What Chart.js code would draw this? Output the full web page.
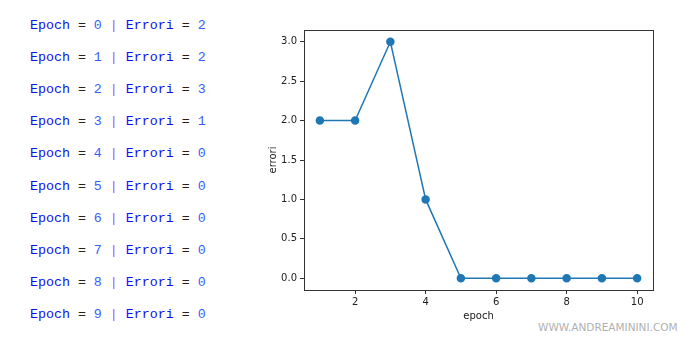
<!DOCTYPE html>
<html><head><meta charset="utf-8">
<script src="https://cdn.jsdelivr.net/npm/chart.js@4"></script>
<style>
html,body{margin:0;padding:0;background:#fff;width:700px;height:340px;overflow:hidden;}
#log{position:absolute;left:30px;top:0;font-family:"Liberation Mono","Courier New",monospace;font-size:13.3px;}
#log div{position:absolute;left:0;white-space:pre;line-height:16px;}
.k{color:#1010ee}.op{color:#222}.n{color:#3a5cff}.p{color:#a050ff}
#wm{position:absolute;left:538px;top:321px;font-family:"DejaVu Sans",sans-serif;font-size:10.5px;color:#b0b0b0;}
#c{position:absolute;left:0;top:0;}
</style></head><body>
<div id="log"></div>
<div id="wm">WWW.ANDREAMININI.COM</div>
<canvas id="c" width="700" height="340"></canvas>
<script>
const logEpochs = [0,1,2,3,4,5,6,7,8,9];
const epochs = [1,2,3,4,5,6,7,8,9,10];
const errori = [2,2,3,1,0,0,0,0,0,0];
const xTicks = [2,4,6,8,10];
const yTicks = [0,0.5,1,1.5,2,2.5,3];

const log = document.getElementById('log');
logEpochs.forEach((e,i)=>{
  const d=document.createElement('div');
  d.style.top=(18+i*32.1)+'px';
  d.innerHTML='<span class="k">Epoch</span> <span class="op">=</span> <span class="n">'+e+'</span> <span class="p">|</span> <span class="k">Errori</span> <span class="op">=</span> <span class="n">'+errori[i]+'</span>';
  log.appendChild(d);
});

const frame={id:'frame',afterDraw(ch){const a=ch.chartArea,c=ch.ctx;c.save();c.strokeStyle='#333';c.lineWidth=1;c.strokeRect(Math.round(a.left)+0.5,Math.round(a.top)+0.5,Math.round(a.right-a.left),Math.round(a.bottom-a.top));c.restore();}};

new Chart(document.getElementById('c'),{
  type:'line',
  data:{datasets:[{data:epochs.map((x,i)=>({x:x,y:errori[i]})),borderColor:'#1f77b4',backgroundColor:'#1f77b4',borderWidth:1.5,pointRadius:3.5,pointHoverRadius:3.5,tension:0}]},
  options:{
    responsive:false,animation:false,devicePixelRatio:1,
    layout:{padding:{left:267,right:47,top:30,bottom:18}},
    plugins:{legend:{display:false},tooltip:{enabled:false}},
    scales:{
      x:{type:'linear',min:0.55,max:10.45,
        afterBuildTicks:s=>{s.ticks=xTicks.map(v=>({value:v}));},
        afterFit:s=>{s.height=340-290-18;},
        ticks:{color:'#222',font:{family:'DejaVu Sans',size:10},padding:2,callback:v=>String(v)},
        grid:{drawOnChartArea:false,tickLength:4,color:'#333'},
        border:{color:'#333'},
        title:{display:true,text:'epoch',color:'#222',font:{family:'DejaVu Sans',size:10},padding:{top:0,bottom:0}}},
      y:{type:'linear',min:-0.15,max:3.15,
        afterBuildTicks:s=>{s.ticks=yTicks.map(v=>({value:v}));},
        afterFit:s=>{s.width=304-267;},
        ticks:{color:'#222',font:{family:'DejaVu Sans',size:10},padding:3,callback:v=>v.toFixed(1)},
        grid:{drawOnChartArea:false,tickLength:4,color:'#333'},
        border:{color:'#333'},
        title:{display:true,text:'errori',color:'#222',font:{family:'DejaVu Sans',size:10},padding:{top:0,bottom:0}}}
    }
  },
  plugins:[frame]
});
</script>
</body></html>
